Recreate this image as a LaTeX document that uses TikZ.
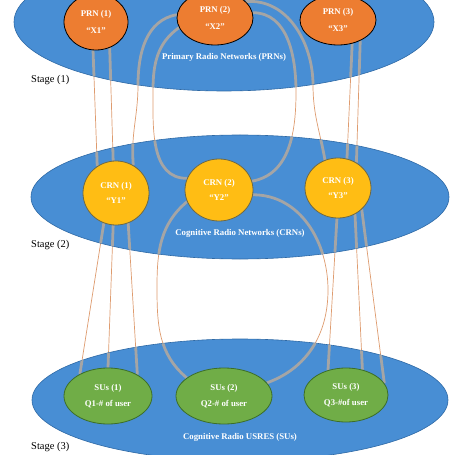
\documentclass[tikz,border=0pt]{standalone}
\usepackage{fontspec}
\setmainfont{Liberation Serif}
\usetikzlibrary{shapes.geometric}
\definecolor{netblue}{RGB}{72,142,212}
\definecolor{netline}{RGB}{46,105,165}
\definecolor{prnorange}{RGB}{237,125,49}
\definecolor{crnyellow}{RGB}{255,189,20}
\definecolor{crnline}{RGB}{110,105,70}
\definecolor{sugreen}{RGB}{112,173,71}
\definecolor{suline}{RGB}{60,110,40}
\definecolor{conngray}{RGB}{165,165,165}
\definecolor{connorange}{RGB}{222,155,110}
\pgfdeclarelayer{orangelayer}
\pgfdeclarelayer{netlayer}
\pgfdeclarelayer{graylayer}
\pgfsetlayers{orangelayer,netlayer,graylayer,main}
\newcommand\drawconns[1]{%
  \draw[#1] (PRN1.-96) -- (CRN1.125);
  \draw[#1] (PRN1.-62) -- (CRN1.95);
  \draw[#1] (PRN2.175) to[out=190,in=90] (138,85) to[out=-90,in=95] (CRN1.58);
  \draw[#1] (PRN2.195) to[out=215,in=90] (153,90) to[out=-90,in=180] (CRN2.160);
  \draw[#1] (PRN2.8) to[out=0,in=90] (296,92) to[out=-90,in=10] (CRN2.15);
  \draw[#1] (PRN2.28) to[out=5,in=90] (313,85) to[out=-90,in=100] (CRN3.115);
  \draw[#1] (PRN3.-59) -- (CRN3.73);
  \draw[#1] (PRN3.-43) -- (CRN3.54);
  \draw[#1] (CRN1.-112) -- (SU1.142);
  \draw[#1] (CRN1.-95) -- (SU1.90);
  \draw[#1] (CRN1.-68) -- (SU1.36);
  \draw[#1] (CRN2.200) to[out=220,in=90] (157,287) to[out=-90,in=140] (SU2.154);
  \draw[#1] (CRN2.-8) to[out=0,in=90] (328,290) to[out=-90,in=20] (SU2.17);
  \draw[#1] (CRN3.-92) -- (SU3.126);
  \draw[#1] (CRN3.-57) -- (SU3.57);
  \draw[#1] (CRN3.-42) -- (SU3.17);
}
\begin{document}
\begin{tikzpicture}[x=1bp,y=-1bp,
  net/.style={ellipse, draw=netline, line width=0.6pt, fill=netblue, inner sep=0pt},
  nodetext/.style={text=white, font=\bfseries\fontsize{8.8}{9.5}\selectfont, align=center, inner sep=0pt},
  prn/.style={ellipse, draw=black, line width=0.8pt, fill=prnorange, nodetext},
  crn/.style={ellipse, draw=crnline, line width=0.8pt, fill=crnyellow, nodetext},
  su/.style={ellipse, draw=suline, line width=0.8pt, fill=sugreen, nodetext},
  netlabel/.style={text=white, font=\bfseries\fontsize{8.8}{10}\selectfont, inner sep=0pt},
  stagelabel/.style={text=black, font=\fontsize{10.5}{12}\selectfont, anchor=west, inner sep=0pt},
  orangeconn/.style={draw=connorange, line width=0.7pt},
  grayconn/.style={draw=conngray, line width=2.8pt}
]
\useasboundingbox (0,0) rectangle (455,455);

% small nodes
\node[prn, minimum width=64bp, minimum height=56bp] (PRN1) at (96,22) {PRN (1)\\[7pt]“X1”};
\node[prn, minimum width=76bp, minimum height=54bp] (PRN2) at (215,18) {PRN (2)\\[7pt]“X2”};
\node[prn, minimum width=76bp, minimum height=50bp] (PRN3) at (338,20) {PRN (3)\\[7pt]“X3”};
\node[crn, minimum width=66bp, minimum height=64bp] (CRN1) at (116,193) {CRN (1)\\[6pt]“Y1”};
\node[crn, minimum width=68bp, minimum height=62bp] (CRN2) at (219,190) {CRN (2)\\[6pt]“Y2”};
\node[crn, minimum width=66bp, minimum height=60bp] (CRN3) at (338,188) {CRN (3)\\[6pt]“Y3”};
\node[su, minimum width=88bp, minimum height=56bp] (SU1) at (108,396) {SUs (1)\\[7pt]Q1-\# of user};
\node[su, minimum width=96bp, minimum height=56bp] (SU2) at (224,396) {SUs (2)\\[7pt]Q2-\# of user};
\node[su, minimum width=84bp, minimum height=54bp] (SU3) at (346,395) {SUs (3)\\[7pt]Q3-\#of user};

% labels
\node[netlabel] (lprn) at (224,57) {Primary Radio Networks (PRNs)};
\node[netlabel] (lcrn) at (240,233) {Cognitive Radio Networks (CRNs)};
\node[netlabel] (lsu) at (240,437) {Cognitive Radio USRES (SUs)};
\node[stagelabel] (s1) at (31,80) {Stage (1)};
\node[stagelabel] (s2) at (31,245) {Stage (2)};
\node[stagelabel] (s3) at (31,447) {Stage (3)};

% network ellipses
\begin{pgfonlayer}{netlayer}
\node[net, minimum width=420bp, minimum height=138bp] (prnnet) at (224,22) {};
\node[net, minimum width=418bp, minimum height=124bp] (crnnet) at (240,197) {};
\node[net, minimum width=416bp, minimum height=122bp] (sunet) at (240,400) {};
\end{pgfonlayer}

% connectors: thin orange outside, thick gray inside the networks
\begin{pgfonlayer}{orangelayer}
\fill[white] (0,0) rectangle (455,455);
\drawconns{orangeconn}
\end{pgfonlayer}
\begin{pgfonlayer}{graylayer}
\begin{scope}
\clip (224,22) ellipse [x radius=210bp, y radius=69bp]
      (240,197) ellipse [x radius=209bp, y radius=62bp]
      (240,400) ellipse [x radius=208bp, y radius=61bp];
\drawconns{grayconn}
\end{scope}
\end{pgfonlayer}
\end{tikzpicture}
\end{document}
